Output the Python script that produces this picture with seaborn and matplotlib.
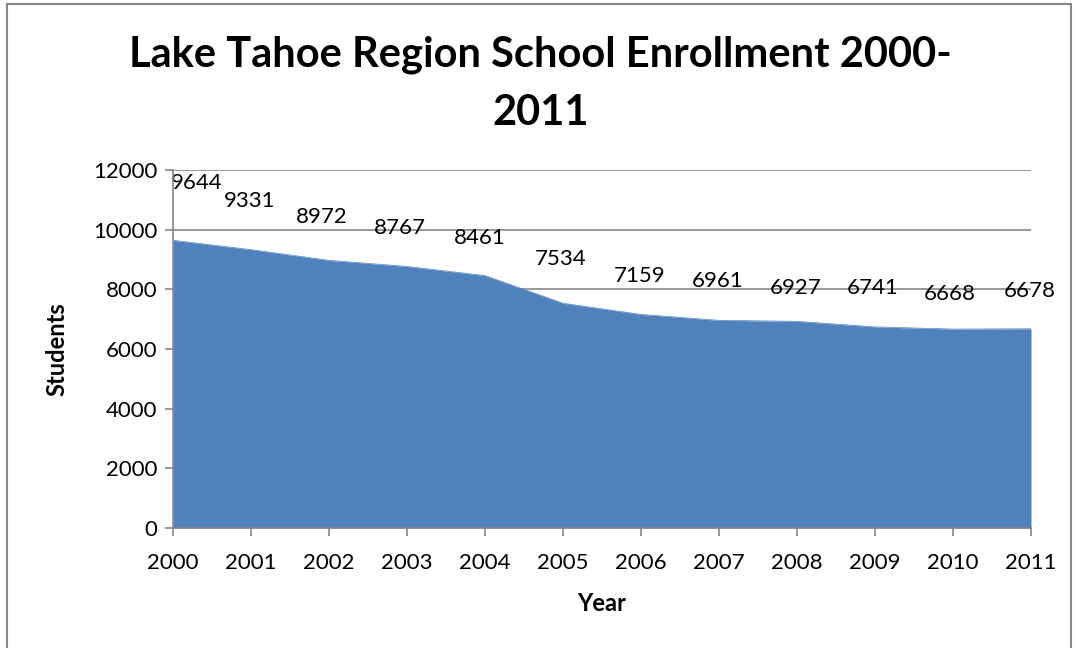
import matplotlib
matplotlib.use("Agg")
import matplotlib.pyplot as plt
import seaborn as sns
import pandas as pd
from matplotlib.patches import Rectangle

years = [2000, 2001, 2002, 2003, 2004, 2005, 2006, 2007, 2008, 2009, 2010, 2011]
students = [9644, 9331, 8972, 8767, 8461, 7534, 7159, 6961, 6927, 6741, 6668, 6678]
y_ticks = [0, 2000, 4000, 6000, 8000, 10000, 12000]

df = pd.DataFrame({"Year": years, "Students": students})

sns.set_style("white")
plt.rcParams["font.family"] = ["Lato", "DejaVu Sans"]
plt.rcParams["text.color"] = "black"

fig = plt.figure(figsize=(10.74, 6.48), dpi=100)
ax = fig.add_axes([173 / 1074, 1 - 528 / 648, (1031 - 173) / 1074, (528 - 170) / 648])

grid_c = "#868686"
for t in y_ticks[1:]:
    ax.axhline(t, color=grid_c, lw=1.2, zorder=1)

ax.fill_between(df["Year"], df["Students"], 0, color="#4F81BD", lw=0, zorder=2)
sns.lineplot(data=df, x="Year", y="Students", ax=ax, color="#4F81BD", lw=0.5, zorder=3)

# value labels above the area (offsets in points)
dy = [41, 35, 31, 28, 27, 32, 28, 28, 24, 28, 25, 27]
dx = [17, -1, -5, -5, -4, -2, -1, -1, -1, -2, -2, -1]
for x, v, oy, ox in zip(years, students, dy, dx):
    ax.annotate(str(v), (x, v), xytext=(ox, oy), textcoords="offset points",
                ha="center", va="center", fontsize=16, color="black", zorder=4)

ax.set_xlim(years[0], years[-1])
ax.set_ylim(0, 12000)
ax.set_xticks(years)
ax.set_yticks(y_ticks)
ax.set_xticklabels([str(y) for y in years])
ax.set_yticklabels([str(t) for t in y_ticks])
ax.tick_params(axis="both", labelsize=16, colors=grid_c, labelcolor="black",
               length=6, width=1.2, direction="out", left=True, bottom=True)
ax.tick_params(axis="x", pad=12)
ax.tick_params(axis="y", pad=5)
for s in ["top", "right"]:
    ax.spines[s].set_visible(False)
for s in ["left", "bottom"]:
    ax.spines[s].set_color(grid_c)
    ax.spines[s].set_linewidth(1.2)
    ax.spines[s].set_zorder(5)

ax.set_xlabel("Year", fontsize=17, fontweight="bold", labelpad=14, color="black")
ax.set_ylabel("Students", fontsize=17, fontweight="bold", labelpad=18, color="black")

fig.text(0.503, 1 - 67 / 648, "Lake Tahoe Region School Enrollment 2000-",
         ha="center", va="baseline", fontsize=30, fontweight="bold", color="black")
fig.text(0.503, 1 - 125 / 648, "2011",
         ha="center", va="baseline", fontsize=30, fontweight="bold", color="black")

fig.patches.append(Rectangle((7 / 1074, -0.01), (1071 - 7) / 1074, 1 - 4 / 648 + 0.01,
                             transform=fig.transFigure, fill=False,
                             edgecolor="#868686", lw=1.5))

fig.savefig("out.png", dpi=100)
